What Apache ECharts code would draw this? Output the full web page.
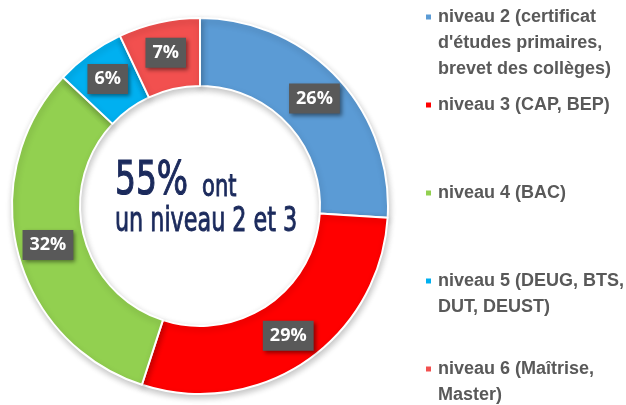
<!DOCTYPE html>
<html>
<head>
<meta charset="utf-8">
<script src="https://cdn.jsdelivr.net/npm/echarts@6/dist/echarts.min.js"></script>
<style>
  html, body { margin: 0; padding: 0; background: #fff; }
  #chart { width: 626px; height: 405px; }
</style>
</head>
<body>
<div id="chart"></div>
<script>
// niveaux de diplôme
var categories = [
  'niveau 2 (certificat\nd\'études primaires,\nbrevet des collèges)',
  'niveau 3 (CAP, BEP)',
  'niveau 4 (BAC)',
  'niveau 5 (DEUG, BTS,\nDUT, DEUST)',
  'niveau 6 (Maîtrise,\nMaster)'
];
var values = [26, 29, 32, 6, 7];
var colors = ['#5B9BD5', '#FF0000', '#92D050', '#00B0F0', '#F2504F'];
var centerBig = '55%';
var centerSmall = 'ont';
var centerLine2 = 'un niveau 2 et 3';

var chart = echarts.init(document.getElementById('chart'));

// une légende par niveau, pour caler chaque entrée
var legends = categories.map(function (name, i) {
  var n = name.split('\n').length;
  return {
    data: [name],
    orient: 'vertical',
    left: 424,
    top: 17 + i * 88 - (2 * n - 1) * 13,
    padding: 0,
    itemWidth: 7,
    itemHeight: 7,
    icon: 'rect',
    selectedMode: false,
    formatter: function (t) { return new Array(n).join('\n') + t; },
    textStyle: {
      fontFamily: 'Liberation Sans',
      fontWeight: 'bold',
      fontSize: 18,
      lineHeight: 26,
      color: '#595959',
      padding: [0, 0, 0, 1]
    }
  };
});

var centerFont = 'DejaVu Sans';
var navy = '#1B2A5C';

chart.setOption({
  backgroundColor: '#fff',
  animation: false,
  color: colors,
  legend: legends,
  graphic: [
    {
      type: 'text', x: 115, y: 182, scaleX: 0.7,
      style: { text: centerBig, fontFamily: centerFont, fontSize: 47, fill: navy, stroke: navy, lineWidth: 1.2, verticalAlign: 'middle' }
    },
    {
      type: 'text', x: 202, y: 188, scaleX: 0.68,
      style: { text: centerSmall, fontFamily: centerFont, fontSize: 31, fill: navy, stroke: navy, lineWidth: 1, verticalAlign: 'middle' }
    },
    {
      type: 'text', x: 115, y: 222, scaleX: 0.655,
      style: { text: centerLine2, fontFamily: centerFont, fontSize: 34, fill: navy, stroke: navy, lineWidth: 1, verticalAlign: 'middle' }
    }
  ],
  series: [{
    type: 'pie',
    center: [200, 206],
    radius: [120, 188],
    startAngle: 90,
    clockwise: true,
    avoidLabelOverlap: false,
    emphasis: { disabled: true },
    itemStyle: {
      borderColor: '#fff',
      borderWidth: 2,
      shadowBlur: 6,
      shadowOffsetX: 1,
      shadowOffsetY: 3,
      shadowColor: 'rgba(0,0,0,0.22)'
    },
    label: {
      show: true,
      position: 'inside',
      formatter: '{c}%',
      color: '#fff',
      fontFamily: 'Open Sans',
      fontWeight: 'bold',
      fontSize: 18,
      lineHeight: 21,
      backgroundColor: '#595959',
      padding: [5, 7, 4, 7],
      shadowColor: 'rgba(0,0,0,0.45)',
      shadowBlur: 4,
      shadowOffsetX: 2,
      shadowOffsetY: 2
    },
    labelLine: { show: false },
    data: categories.map(function (c, i) {
      return { name: c, value: values[i] };
    })
  }]
});
</script>
</body>
</html>
